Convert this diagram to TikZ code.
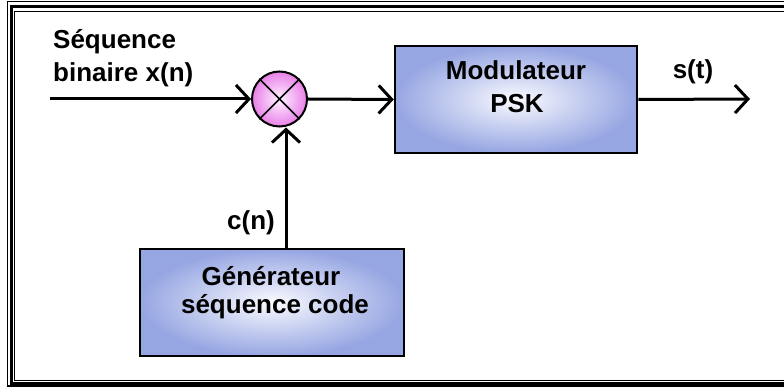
\documentclass[tikz,border=0pt]{standalone}
\usepackage{fontspec}
\setmainfont{Liberation Sans}
\usetikzlibrary{arrows.meta}
\definecolor{boxouter}{RGB}{150,166,226}
\definecolor{boxinner}{RGB}{250,250,255}
\definecolor{mulouter}{RGB}{232,128,232}
\definecolor{mulinner}{RGB}{255,242,255}
\begin{document}
\begin{tikzpicture}[x=1pt,y=-1pt,
  lbl/.style={font=\bfseries\fontsize{26}{31}\selectfont, inner sep=0pt},
  blk/.style={draw=black, line width=2.5pt, inner color=boxinner, outer color=boxouter, inner sep=0pt},
  mulbox/.style={circle, draw=black, line width=2pt, inner color=mulinner, outer color=mulouter, inner sep=0pt, minimum size=55pt},
  sig/.style={line width=3pt, -{Straight Barb[length=13pt,width=28pt,line width=3pt]}},
  frthin/.style={line width=1.2pt},
  frthick/.style={line width=3pt}]
\useasboundingbox (0,0) rectangle (784,387);
\clip (0,0) rectangle (784,387);
% frame
\draw[frthin] (7.5,1.5) rectangle (800,386);
\draw[frthick] (11,7) rectangle (800,383.5);
\draw[frthin] (14.5,11.5) rectangle (800,380.5);
% blocks
\node[blk, minimum width=242pt, minimum height=107pt] (mod) at (516,99.5) {};
\node[blk, minimum width=264pt, minimum height=107pt] (gen) at (272,302.5) {};
\node[mulbox] (mul) at (279.5,99) {};
\draw[line width=1.5pt] (mul.north west) -- (mul.south east);
\draw[line width=1.5pt] (mul.north east) -- (mul.south west);
% texts
\node[lbl, anchor=base west] (t1) at (53,49) {Séquence};
\node[lbl, anchor=base west] (t2) at (53,82) {binaire x(n)};
\node[lbl, anchor=base] (t3) at (516,80) {Modulateur};
\node[lbl, anchor=base] (t4) at (517,113) {PSK};
\node[lbl, anchor=base] (t5) at (693,79) {s(t)};
\node[lbl, anchor=base east] (t6) at (275,230) {c(n)};
\node[lbl, anchor=base] (t7) at (271,285) {Générateur};
\node[lbl, anchor=base] (t8) at (275,313) {séquence code};
% connectors
\coordinate (in) at (50,99);
\coordinate (out) at (750,99);
\coordinate (vx) at (286,0);
\draw[sig] (in) -- (mul.west);
\draw[sig] (mul.east) -- (mod.west);
\draw[sig] (mod.east) -- (out);
\draw[sig] (gen.north -| vx) -- (mul.south -| vx);
\end{tikzpicture}
\end{document}
